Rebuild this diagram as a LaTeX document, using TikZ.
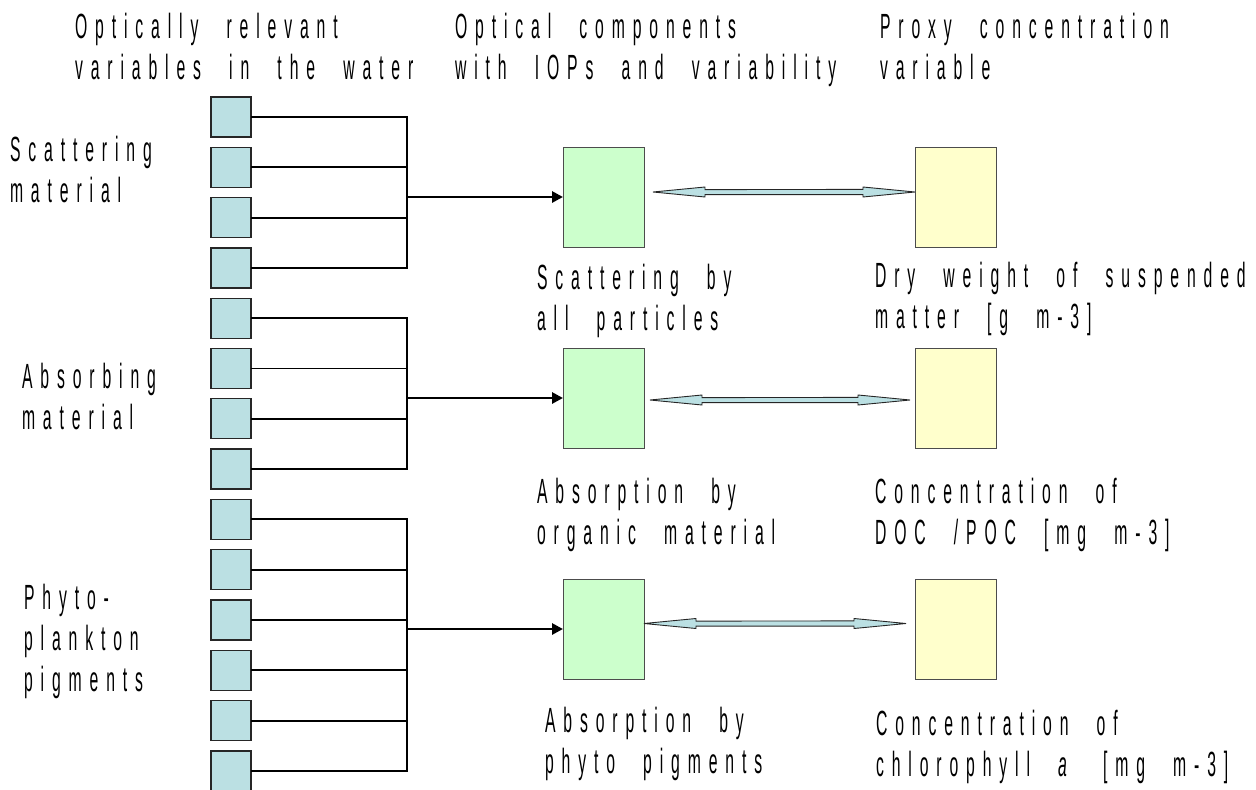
\documentclass[tikz,border=0pt]{standalone}
\usepackage{fontspec}
\setmainfont{Liberation Sans}
\newfontfamily\labfont{Liberation Sans}[FakeStretch=0.45, LetterSpace=22.5, WordSpace=2.3]
\usetikzlibrary{calc,arrows.meta}

\definecolor{varblue}{HTML}{BBE0E3}
\definecolor{compgreen}{HTML}{CCFFCC}
\definecolor{proxyyellow}{HTML}{FFFFCC}

% light-blue two-headed band arrow between two tip points
\newcommand\bandarrow[2]{%
  \draw[band] (#1) -- ++(52,-5) -- ++(0,2.6) -- ($(#2)+(-52,-2.6)$) -- ++(0,-2.4)
    -- (#2) -- ++(-52,5) -- ++(0,-2.4) -- ($(#1)+(52,2.6)$) -- ++(0,2.4) -- cycle;}

\begin{document}
\begin{tikzpicture}[x=1pt,y=-1pt,
  every node/.style={inner sep=0pt, outer sep=0pt},
  var/.style={draw=black!85, line width=1.3pt, fill=varblue,
    minimum width=40pt, minimum height=40pt, anchor=north west},
  comp/.style={draw=black!70, line width=1pt, fill=compgreen,
    minimum width=81pt, minimum height=100pt, anchor=north west},
  proxy/.style={comp, fill=proxyyellow},
  lbl/.style={anchor=base west, align=left,
    font=\labfont\fontsize{35}{41}\selectfont},
  link/.style={line width=1.9pt},
  feed/.style={line width=2.8pt, -{Triangle[length=11pt,width=11pt]}},
  band/.style={draw=black!85, line width=0.9pt, fill=varblue, line join=miter}
]
\useasboundingbox (0,0) rectangle (1256,790);
\clip (0,0) rectangle (1256,790);

% column headings (anchored on the baseline of their last line)
\node[lbl] (h1) at (75,79) {Optically relevant\\variables in the water};
\node[lbl] (h2) at (455,79) {Optical components\\with IOPs and variability};
\node[lbl] (h3) at (880,79) {Proxy concentration\\variable};

% group labels
\node[lbl] (m1) at (10,202) {Scattering\\material};
\node[lbl] (m2) at (22,429) {Absorbing\\material};
\node[lbl] (m3) at (24,691) {Phyto-\\plankton\\pigments};

% water variables
\foreach \k in {0,...,13}
  \node[var] (s\k) at (211,{97+50.3*\k}) {};
\coordinate (bus) at (407,0);

% optical components and proxies
\node[comp] (g1) at (563,147) {};
\node[comp] (g2) at (563,348) {};
\node[comp] (g3) at (563,579) {};
\node[proxy] (y1) at (915,147) {};
\node[proxy] (y2) at (915,348) {};
\node[proxy] (y3) at (915,579) {};

% collector lines
\foreach \a/\b in {0/3,4/7,8/13}{
  \draw[link] (s\a.east) -- (s\a.east -| bus) -- (s\b.east -| bus) -- (s\b.east);
}
\foreach \k in {1,2,5,6,9,10,11,12}
  \draw[link] (s\k.east) -- (s\k.east -| bus);

% feeds into the optical components
\draw[feed] (g1.west -| bus) -- (g1.west);
\draw[feed] (g2.west -| bus) -- (g2.west);
\draw[feed] (g3.west -| bus) -- (g3.west);

% component <-> proxy relations
\coordinate (a1l) at ($(g1.east)+(9,-5)$);
\coordinate (a1r) at (y1.west |- a1l);
\coordinate (a2l) at ($(g2.east)+(6,2)$);
\coordinate (a2r) at ($(y2.west |- a2l)+(-5,0)$);
\coordinate (a3l) at ($(g3.east)+(0,-5.5)$);
\coordinate (a3r) at ($(y3.west |- a3l)+(-9,0)$);
\bandarrow{a1l}{a1r}
\bandarrow{a2l}{a2r}
\bandarrow{a3l}{a3r}

% component and proxy captions
\node[lbl] (c1) at (537,330) {Scattering by\\all particles};
\node[lbl] (c2) at (537,544) {Absorption by\\organic material};
\node[lbl] (c3) at (545,773) {Absorption by\\phyto pigments};
\node[lbl] (p1) at (875,328) {Dry weight of suspended\\matter [g m-3]};
\node[lbl] (p2) at (875,544) {Concentration of\\DOC /POC [mg m-3]};
\node[lbl] (p3) at (876,776) {Concentration of\\chlorophyll \textit{a} [mg m-3]};
\end{tikzpicture}
\end{document}
